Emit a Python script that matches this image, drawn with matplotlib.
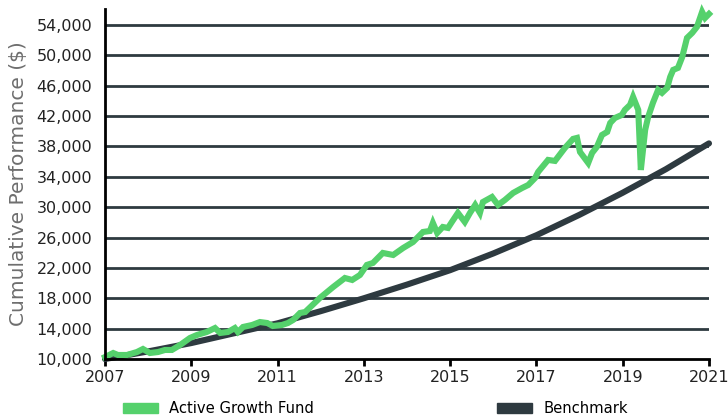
import numpy as np
import matplotlib.pyplot as plt
from matplotlib.patches import Patch

plt.rcParams['font.family'] = ['DejaVu Sans']

#fund values (year, $)
fund_years = [2007.00, 2007.19, 2007.30, 2007.51, 2007.74, 2007.88, 2008.04, 2008.23, 2008.39, 2008.55,
              2008.74, 2008.97, 2009.13, 2009.36, 2009.55, 2009.67, 2009.85, 2010.01, 2010.08, 2010.20,
              2010.41, 2010.59, 2010.76, 2010.89, 2011.10, 2011.24, 2011.36, 2011.52, 2011.64, 2011.98,
              2012.29, 2012.56, 2012.73, 2012.91, 2013.07, 2013.21, 2013.44, 2013.68, 2013.91, 2014.14,
              2014.37, 2014.53, 2014.60, 2014.70, 2014.83, 2014.95, 2015.04, 2015.18, 2015.34, 2015.46,
              2015.58, 2015.69, 2015.76, 2015.97, 2016.11, 2016.27, 2016.46, 2016.67, 2016.81, 2016.97,
              2017.04, 2017.27, 2017.43, 2017.66, 2017.85, 2017.94, 2018.01, 2018.20, 2018.29, 2018.40,
              2018.52, 2018.64, 2018.71, 2018.82, 2018.98, 2019.05, 2019.17, 2019.24, 2019.36, 2019.42,
              2019.52, 2019.59, 2019.70, 2019.82, 2019.91, 2020.03, 2020.10, 2020.17, 2020.28, 2020.38,
              2020.49, 2020.61, 2020.72, 2020.84, 2020.91, 2021.00]
fund_values = [10260, 10790, 10530, 10530, 10920, 11320, 10790, 10920, 11190, 11190,
               11840, 12770, 13160, 13560, 14080, 13430, 13560, 14080, 13560, 14220,
               14480, 14870, 14740, 14350, 14480, 14740, 15140, 16060, 16190, 18040,
               19490, 20670, 20410, 21070, 22390, 22650, 23970, 23700, 24620, 25410,
               26730, 26860, 27920, 26600, 27390, 27260, 28050, 29240, 28050, 29240,
               30290, 29240, 30680, 31340, 30290, 30950, 31870, 32530, 32920, 33850,
               34640, 36220, 36090, 37800, 38990, 39120, 37270, 35820, 37140, 37930,
               39510, 39910, 41090, 41750, 42150, 42810, 43470, 44520, 42810, 34900,
               40170, 41880, 43730, 45440, 45050, 45700, 47150, 48080, 48340, 49790,
               52290, 52950, 53740, 55720, 54930, 55450]

#benchmark, one value per year
bench_years = list(range(2007, 2022))
bench_values = [10000, 11000, 12100, 13400, 14700, 16300, 18000, 19800, 21700, 23900,
                26300, 29000, 31900, 35000, 38400]

green = "#55d16c"
dark = "#2e3a40"

fig = plt.figure(figsize=(7.28, 4.18), dpi=100)
ax = fig.add_axes([105/728, 1-359/418, 604/728, 350/418])

yticks = np.arange(10000, 54001, 4000)
for yv in yticks[1:]:
    ax.axhline(yv, color=dark, lw=2, zorder=1)

ax.plot(bench_years, bench_values, color=dark, lw=4.4, solid_capstyle='round', zorder=2, clip_on=False)
ax.plot(fund_years, fund_values, color=green, lw=4.4, solid_joinstyle='miter', zorder=3, clip_on=False)

ax.set_xlim(2007, 2021)
ax.set_ylim(10000, 56100)
ax.set_xticks(range(2007, 2022, 2))
ax.set_yticks(yticks)
ax.set_yticklabels([f"{v:,}" for v in yticks])
ax.tick_params(axis='y', length=0, pad=9, labelsize=11.5, labelcolor="#222222")
ax.tick_params(axis='x', length=5, width=2, pad=3, labelsize=11.5, labelcolor="#222222")
for s in ['top', 'right']:
    ax.spines[s].set_visible(False)
for s in ['left', 'bottom']:
    ax.spines[s].set_linewidth(2)
    ax.spines[s].set_color("black")
    ax.spines[s].set_zorder(4)

ax.set_ylabel("Cumulative Performance ($)", fontsize=14.5, color="#6e6e6e", labelpad=6)

leg_kw = dict(loc='upper left', frameon=False, fontsize=10.6, handlelength=2.4,
              handleheight=0.7, handletextpad=0.75, borderpad=0, borderaxespad=0)
fig.legend(handles=[Patch(color=green, label="Active Growth Fund")],
           bbox_to_anchor=(123/728, 1-401/418), **leg_kw)
fig.legend(handles=[Patch(color=dark, label="Benchmark")],
           bbox_to_anchor=(497/728, 1-401/418), **leg_kw)

plt.savefig("out.png", dpi=100)
